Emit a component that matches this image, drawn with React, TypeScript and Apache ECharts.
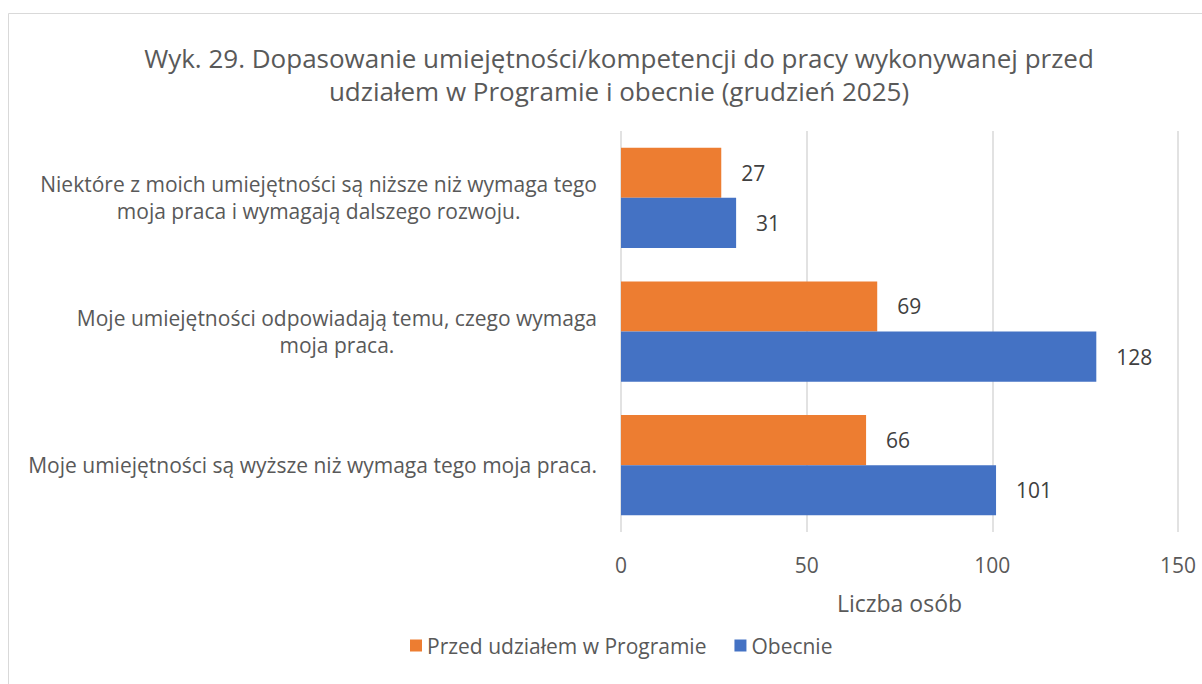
import React, { useEffect, useRef } from "react";
import * as echarts from "echarts";

const categories = [
  ["Niektóre z moich umiejętności są niższe niż wymaga tego", "moja praca i wymagają dalszego rozwoju."],
  ["Moje umiejętności odpowiadają temu, czego wymaga", "moja praca."],
  ["Moje umiejętności są wyższe niż wymaga tego moja praca."],
];
const seriesNames = ["Przed udziałem w Programie", "Obecnie"];
const beforeValues = [27, 69, 66];
const nowValues = [31, 128, 101];
const xTicks = { min: 0, max: 150, interval: 50 };
const titleText = "Wyk. 29. Dopasowanie umiejętności/kompetencji do pracy wykonywanej przed\nudziałem w Programie i obecnie (grudzień 2025)";
const xAxisName = "Liczba osób";

const FONT = "Open Sans";

export default function App() {
  const ref = useRef<HTMLDivElement>(null);
  useEffect(() => {
    const chart = echarts.init(ref.current!, undefined, { renderer: "svg" });
    chart.setOption({
      animation: false,
      textStyle: { fontFamily: FONT },
      graphic: [
        {
          type: "rect",
          silent: true,
          z: -10,
          shape: { x: 8.5, y: 13.5, width: 1220, height: 700 },
          style: { fill: "none", stroke: "#d9d9d9", lineWidth: 1 },
        },
      ],
      title: {
        text: titleText,
        left: 614,
        top: 36,
        textAlign: "center",
        textStyle: {
          fontFamily: FONT,
          fontSize: 26,
          fontWeight: "normal",
          color: "#595959",
          lineHeight: 33,
        },
      },
      legend: {
        data: seriesNames,
        left: 405,
        top: 630,
        icon: "rect",
        itemWidth: 12,
        itemHeight: 12,
        itemGap: 28,
        textStyle: { fontFamily: FONT, fontSize: 21, color: "#595959" },
      },
      grid: { left: 621, right: 24, top: 131, bottom: 152, containLabel: false },
      xAxis: {
        type: "value",
        min: xTicks.min,
        max: xTicks.max,
        interval: xTicks.interval,
        name: xAxisName,
        nameLocation: "middle",
        nameGap: 59,
        nameTextStyle: { fontFamily: FONT, fontSize: 23, color: "#595959", verticalAlign: "top" },
        axisLine: { show: false },
        axisTick: { show: false },
        axisLabel: { fontFamily: FONT, fontSize: 21, color: "#595959", margin: 22 },
        splitLine: { show: true, lineStyle: { color: "#d9d9d9", width: 1.5 } },
      },
      yAxis: {
        type: "category",
        inverse: true,
        data: categories.map((c) => c.join("\n")),
        axisLine: { show: false },
        axisTick: { show: false },
        axisLabel: {
          margin: 24,
          align: "right",
          formatter: (v: string) =>
            v
              .split("\n")
              .map((l) => "{c|" + l + "}")
              .join("\n"),
          rich: {
            c: {
              align: "center",
              fontFamily: FONT,
              fontSize: 21,
              color: "#595959",
              lineHeight: 27,
            },
          },
        },
      },
      series: [
        {
          name: seriesNames[0],
          type: "bar",
          data: beforeValues,
          barGap: "0%",
          barCategoryGap: "25%",
          itemStyle: { color: "#ED7D31" },
          label: {
            show: true,
            position: "right",
            distance: 20,
            fontFamily: FONT,
            fontSize: 21,
            color: "#404040",
          },
        },
        {
          name: seriesNames[1],
          type: "bar",
          data: nowValues,
          barGap: "0%",
          barCategoryGap: "25%",
          itemStyle: { color: "#4472C4" },
          label: {
            show: true,
            position: "right",
            distance: 20,
            fontFamily: FONT,
            fontSize: 21,
            color: "#404040",
          },
        },
      ],
    });
    return () => chart.dispose();
  }, []);
  return (
    <div
      ref={ref}
      style={{ position: "absolute", left: 0, top: 0, width: 1202, height: 684 }}
    />
  );
}
